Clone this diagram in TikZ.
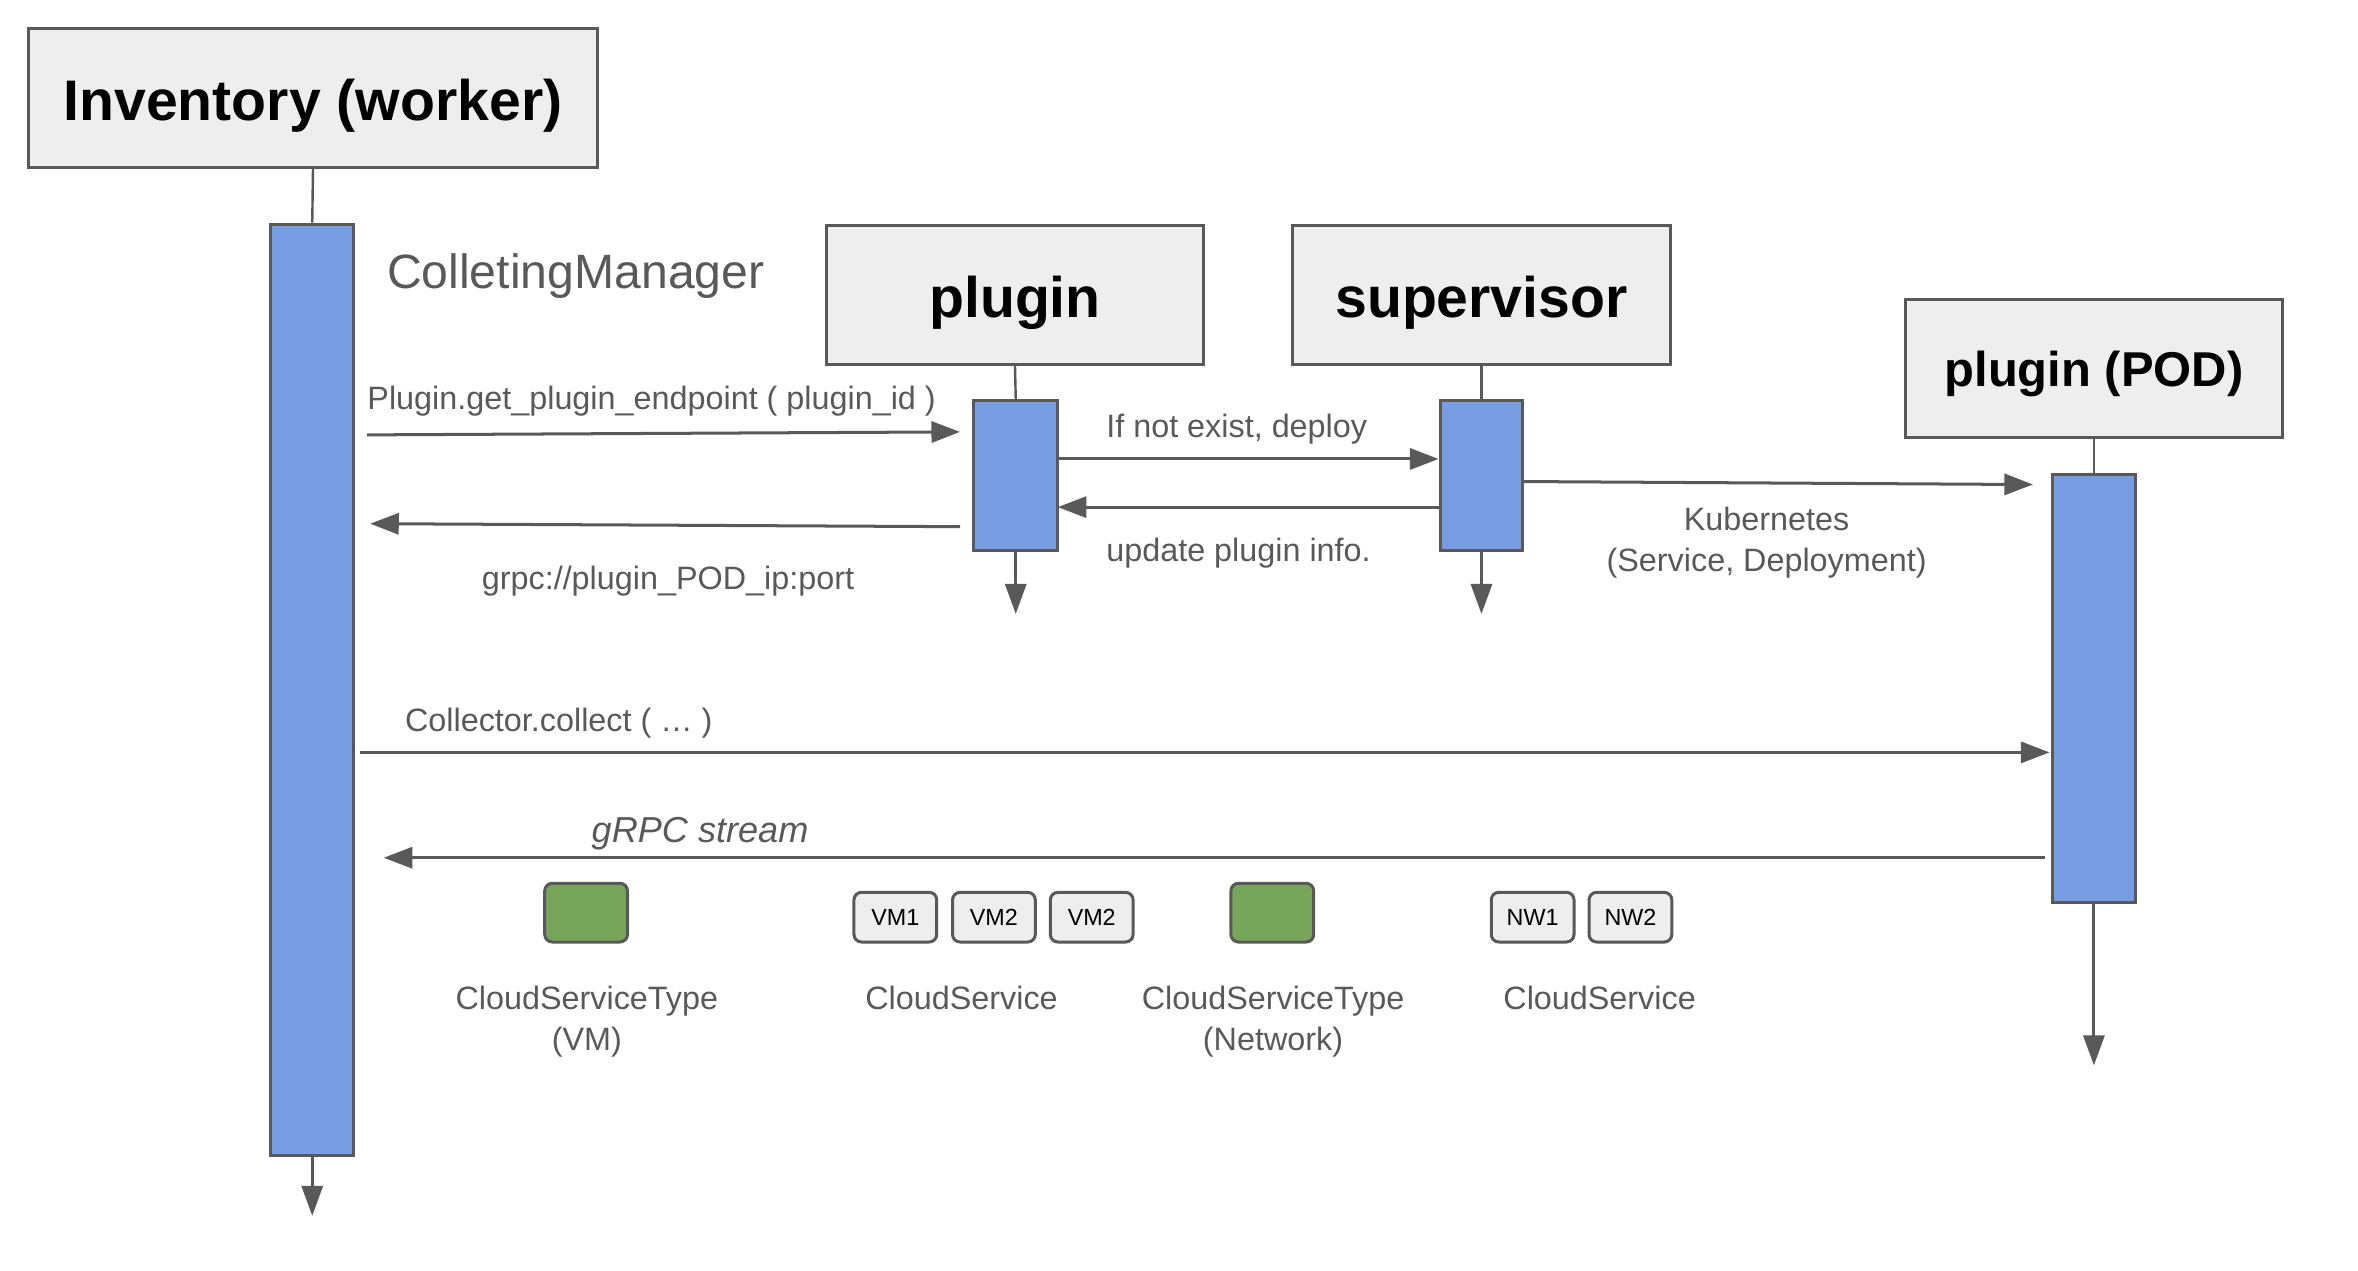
\documentclass[tikz,border=0pt]{standalone}
\usepackage{fontspec}
\setmainfont{Liberation Sans}
\usetikzlibrary{arrows.meta}
\definecolor{edge}{HTML}{595959}
\definecolor{hdrfill}{HTML}{EEEEEE}
\definecolor{actfill}{HTML}{789DE2}
\definecolor{grn}{HTML}{77A65B}
\begin{document}
\begin{tikzpicture}[x=1pt,y=-1pt,
  hdr/.style={draw=edge,fill=hdrfill,line width=2pt,minimum width=251pt,minimum height=92pt,
    font=\fontsize{38}{44}\selectfont\bfseries,text=black,inner sep=0pt,text height=30pt,text depth=0pt},
  act/.style={draw=edge,fill=actfill,line width=2pt,minimum width=55pt,inner sep=0pt},
  life/.style={draw=edge,line width=1.6pt},
  endarrow/.style={draw=edge,line width=2pt,-{Triangle[length=20pt,width=14pt]}},
  msg/.style={draw=edge,line width=2pt,-{Triangle[length=19pt,width=14pt]}},
  lbl/.style={text=edge,font=\fontsize{21.5}{27}\selectfont,inner sep=0pt},
  typebox/.style={draw=edge,fill=grn,line width=2pt,minimum width=55pt,minimum height=39pt,rounded corners=5pt,inner sep=0pt},
  svcbox/.style={draw=edge,fill=hdrfill,line width=2pt,minimum width=55pt,minimum height=33pt,rounded corners=5pt,inner sep=0pt,
    font=\fontsize{15.5}{18}\selectfont,text=black}
]
\useasboundingbox (0,0) rectangle (1567,844);

% headers
\node[hdr,minimum width=378pt] (inv) at (208,65) {Inventory (worker)};
\node[hdr] (plg) at (674.5,196) {plugin};
\node[hdr] (sup) at (984.5,196) {supervisor};
\node[hdr,font=\fontsize{32.5}{38}\selectfont\bfseries,text height=24pt] (pod) at (1391.5,245) {plugin (POD)};

% activation bars
\node[act,minimum height=619pt] (invact) at (207.5,458.5) {};
\node[act,minimum width=56pt,minimum height=100pt] (plgact) at (675,316) {};
\node[act,minimum height=100pt] (supact) at (984.5,316) {};
\node[act,minimum height=285pt] (podact) at (1391.5,457.5) {};

% lifelines
\draw[life] (inv.south) -- (invact.north);
\draw[life] (plg.south) -- (plgact.north);
\draw[life] (sup.south) -- (supact.north);
\draw[life] (pod.south) -- (podact.north);

\coordinate (invend) at (207.5,808);
\coordinate (plgend) at (675,408);
\coordinate (supend) at (984.5,408);
\coordinate (podend) at (1391.5,708);
\draw[endarrow] (invact.south) -- (invend);
\draw[endarrow] (plgact.south) -- (plgend);
\draw[endarrow] (supact.south) -- (supend);
\draw[endarrow] (podact.south) -- (podend);

% messages
\coordinate (m1s) at (244,289);
\coordinate (m1e) at (638,287);
\coordinate (m2s) at (638,350);
\coordinate (m2e) at (246,348);
\coordinate (m3s) at (703,305);
\coordinate (m3e) at (956,305);
\coordinate (m4s) at (956,337);
\coordinate (m4e) at (703,337);
\coordinate (m5s) at (1012,320);
\coordinate (m5e) at (1351,322);
\coordinate (m6s) at (239,500);
\coordinate (m6e) at (1362,500);
\coordinate (m7s) at (1359,570);
\coordinate (m7e) at (255,570);
\draw[msg] (m1s) -- (m1e);
\draw[msg] (m2s) -- (m2e);
\draw[msg] (m3s) -- (m3e);
\draw[msg] (m4s) -- (m4e);
\draw[msg] (m5s) -- (m5e);
\draw[msg] (m6s) -- (m6e);
\draw[msg] (m7s) -- (m7e);

% labels
\node[lbl,font=\fontsize{32}{38}\selectfont,anchor=base west] (cm) at (257,192) {ColletingManager};
\node[lbl,anchor=base west] (l1) at (244,272) {Plugin.get\_plugin\_endpoint ( plugin\_id )};
\node[lbl,anchor=base west] (l2) at (320,392) {grpc://plugin\_POD\_ip:port};
\node[lbl,anchor=base west] (l3) at (735,291) {If not exist, deploy};
\node[lbl,anchor=base west] (l4) at (735,373) {update plugin info.};
\node[lbl,anchor=north,align=center] (l5) at (1174,337) {Kubernetes\\(Service, Deployment)};
\node[lbl,anchor=base west] (l6) at (269,486) {Collector.collect ( … )};
\node[lbl,font=\fontsize{24}{29}\selectfont\itshape,anchor=base west] (l7) at (393,560) {gRPC stream};

% payload boxes
\node[typebox] (t1) at (389.5,606.5) {};
\node[svcbox] (vm1) at (595,609.5) {VM1};
\node[svcbox] (vm2) at (660.5,609.5) {VM2};
\node[svcbox] (vm3) at (725.5,609.5) {VM2};
\node[typebox] (t2) at (845.5,606.5) {};
\node[svcbox] (nw1) at (1018.5,609.5) {NW1};
\node[svcbox] (nw2) at (1083.5,609.5) {NW2};

\node[lbl,anchor=north,align=center] (c1) at (390,655) {CloudServiceType\\(VM)};
\node[lbl,anchor=north,align=center] (c2) at (639,655) {CloudService};
\node[lbl,anchor=north,align=center] (c3) at (846,655) {CloudServiceType\\(Network)};
\node[lbl,anchor=north,align=center] (c4) at (1063,655) {CloudService};
\end{tikzpicture}
\end{document}
